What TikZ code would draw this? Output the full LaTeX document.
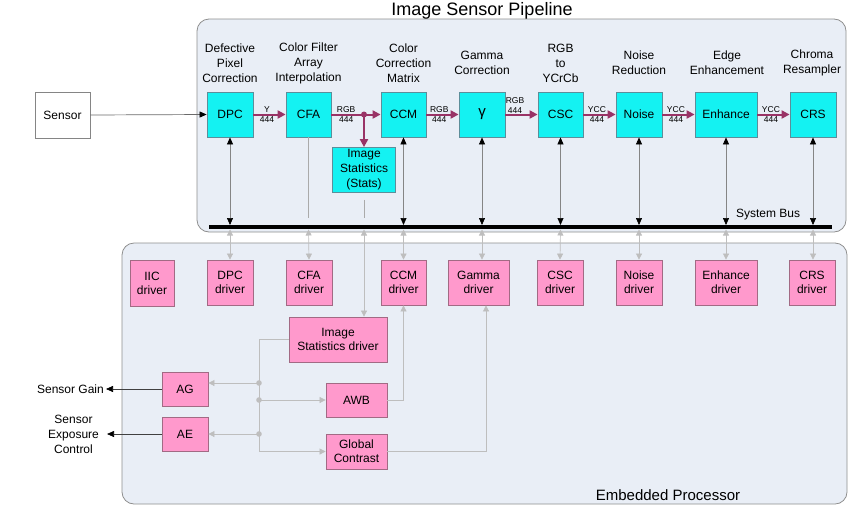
\documentclass[tikz,border=0pt]{standalone}
\usepackage{fontspec}
\setmainfont{Liberation Sans}
\usetikzlibrary{arrows.meta}
\definecolor{pcyan}{HTML}{14F2F2}
\definecolor{cyanborder}{HTML}{5C8E9A}
\definecolor{ppink}{HTML}{FF99CC}
\definecolor{pinkborder}{HTML}{A26A84}
\definecolor{bgfill}{HTML}{E9EEF6}
\definecolor{bgborder}{HTML}{8E8E8E}
\definecolor{dpurple}{HTML}{993366}
\definecolor{midgray}{HTML}{858585}
\definecolor{lgray}{HTML}{BEBEBE}
\begin{document}
\begin{tikzpicture}[x=1pt,y=-1pt,
  font=\fontsize{12}{15}\selectfont,
  panel/.style={draw=bgborder,fill=bgfill,line width=0.8pt,rounded corners=12pt},
  pipe/.style={draw=cyanborder,fill=pcyan,line width=0.8pt,minimum width=46pt,minimum height=45pt,inner sep=0pt,align=center},
  drv/.style={draw=pinkborder,fill=ppink,line width=0.8pt,minimum width=46pt,minimum height=45pt,inner sep=0pt,align=center,font=\fontsize{12}{14}\selectfont},
  lbl/.style={align=center,inner sep=0pt},
  sm/.style={font=\fontsize{8.5}{10}\selectfont,inner sep=1pt},
  dat/.style={draw=dpurple,line width=2pt,-{Triangle[length=8pt,width=8pt]}},
  busarr/.style={draw=midgray,line width=0.7pt,{Triangle[black,length=7pt,width=6pt]}-{Triangle[black,length=7pt,width=6pt]}},
  grayline/.style={draw=midgray!70,line width=0.7pt},
  lgarr/.style={draw=lgray,line width=0.7pt,{Triangle[length=6pt,width=6pt]}-{Triangle[length=6pt,width=6pt]}},
  lgline/.style={draw=lgray,line width=0.7pt},
  lgto/.style={draw=lgray,line width=0.7pt,-{Triangle[length=6pt,width=6pt]}},
  blkto/.style={draw=black!75,line width=0.7pt,-{Triangle[black,length=7pt,width=6pt]}}
]
\useasboundingbox (0,0) rectangle (850,509);

% panels
\path[panel] (197,19) rectangle (846,232);
\path[panel] (122,243) rectangle (847,504);

% titles
\node[anchor=base,inner sep=0pt] (title) at (482,15) {\fontsize{18}{20}\selectfont Image Sensor Pipeline};
\node[anchor=base,inner sep=0pt] (emb) at (668,500) {\fontsize{15}{18}\selectfont Embedded Processor};
\node[anchor=base,inner sep=0pt] (sysbus) at (768,217) {System Bus};

% sensor
\node[draw=midgray,fill=white,line width=0.7pt,minimum width=55pt,minimum height=46pt,inner sep=0pt] (sensor) at (62.5,115) {Sensor};

% pipeline blocks
\node[pipe] (dpc) at (230,114.5) {DPC};
\node[pipe,minimum width=45pt] (cfa) at (308.5,114.5) {CFA};
\node[pipe,minimum width=45pt] (ccm) at (403.5,114.5) {CCM};
\node[pipe,font=\fontsize{15}{15}\selectfont] (gam) at (482,114.5) {γ};
\node[pipe,minimum width=45pt] (csc) at (560.5,114.5) {CSC};
\node[pipe] (noise) at (639,114.5) {Noise};
\node[pipe,minimum width=62pt] (enh) at (726,114.5) {Enhance};
\node[pipe] (crs) at (813,114.5) {CRS};
\node[pipe,minimum width=63pt,minimum height=45pt] (stats) at (364,170) {Image\\Statistics\\(Stats)};

% labels above
\node[lbl] (l1) at (230,63) {Defective\\Pixel\\Correction};
\node[lbl] (l2) at (308.5,63) {Color Filter\\Array\\Interpolation};
\node[lbl] (l3) at (403.5,63) {Color\\Correction\\Matrix};
\node[lbl] (l4) at (482,63) {Gamma\\Correction};
\node[lbl] (l5) at (560.5,63) {RGB\\to\\YCrCb};
\node[lbl] (l6) at (639,63) {Noise\\Reduction};
\node[lbl] (l7) at (727,63) {Edge\\Enhancement};
\node[lbl] (l8) at (812,63) {Chroma\\Resampler};

% data path
\draw[draw=midgray!80!black,line width=0.7pt,-{Triangle[black,length=7pt,width=6pt]}] (sensor.east) -- (dpc.west);
\draw[dat] (dpc) -- (cfa) node[sm,above,pos=0.42]{Y} node[sm,below,pos=0.42]{444};
\draw[dat] (cfa) -- (ccm) node[sm,above,pos=0.3]{RGB} node[sm,below,pos=0.3]{444};
\coordinate (jn) at (364,114.5);
\fill[dpurple] (jn) circle (3pt);
\draw[dat] (jn) -- (stats.north);
\draw[dat] (ccm) -- (gam) node[sm,above,pos=0.4]{RGB} node[sm,below,pos=0.4]{444};
\draw[dat] (gam) -- (csc) node[sm,above,pos=0.3,align=center,yshift=-1pt]{RGB\\444};
\draw[dat] (csc) -- (noise) node[sm,above,pos=0.42]{YCC} node[sm,below,pos=0.42]{444};
\draw[dat] (noise) -- (enh) node[sm,above,pos=0.42]{YCC} node[sm,below,pos=0.42]{444};
\draw[dat] (enh) -- (crs) node[sm,above,pos=0.42]{YCC} node[sm,below,pos=0.42]{444};

% bus
\coordinate (busL) at (209,227);
\coordinate (busR) at (832,227);
\coordinate (busT) at (0,225);
\coordinate (busB) at (0,229.5);
\coordinate (stopT) at (0,218);
\draw[line width=4pt] (busL) -- (busR);

% pipeline to bus
\draw[busarr] (dpc.south) -- (dpc.south |- busT);
\draw[grayline] (cfa.south) -- (cfa.south |- stopT);
\draw[grayline,shorten <=7pt] (stats.south) -- (stats.south |- stopT);
\draw[busarr] (ccm.south) -- (ccm.south |- busT);
\draw[busarr] (gam.south) -- (gam.south |- busT);
\draw[busarr] (csc.south) -- (csc.south |- busT);
\draw[busarr] (noise.south) -- (noise.south |- busT);
\draw[busarr] (enh.south) -- (enh.south |- busT);
\draw[busarr] (crs.south) -- (crs.south |- busT);

% drivers
\node[drv,minimum width=44pt,minimum height=46pt] (iic) at (152,283) {IIC\\driver};
\node[drv] (dpcd) at (230,282.5) {DPC\\driver};
\node[drv] (cfad) at (309,282.5) {CFA\\driver};
\node[drv,minimum width=45pt] (ccmd) at (403.5,282.5) {CCM\\driver};
\node[drv,minimum width=61pt] (gamd) at (478.5,282.5) {Gamma\\driver};
\node[drv] (cscd) at (560,282.5) {CSC\\driver};
\node[drv] (noised) at (639,282.5) {Noise\\driver};
\node[drv,minimum width=62pt] (enhd) at (726,282.5) {Enhance\\driver};
\node[drv] (crsd) at (812,282.5) {CRS\\driver};

\node[drv,minimum width=98pt] (statsd) at (338,339.5) {Image\\Statistics driver};
\node[drv,minimum height=34pt] (ag) at (185,389) {AG};
\node[drv,minimum height=34pt] (ae) at (185,434) {AE};
\node[drv,minimum width=61pt,minimum height=34pt] (awb) at (356.5,400) {AWB};
\node[drv,minimum width=61pt,minimum height=35pt] (gc) at (356.5,451.5) {Global\\Contrast};

% bus to drivers
\draw[lgarr] (dpc.south |- busB) -- (dpcd.north);
\draw[lgarr] (cfa.south |- busB) -- (cfad.north);
\draw[lgarr] (stats.south |- busB) -- (stats.south |- statsd.north);
\draw[lgarr] (ccm.south |- busB) -- (ccmd.north);
\draw[lgarr] (gam.south |- busB) -- (gam.south |- gamd.north);
\draw[lgarr] (csc.south |- busB) -- (cscd.north);
\draw[lgarr] (noise.south |- busB) -- (noise.south |- noised.north);
\draw[lgarr] (enh.south |- busB) -- (enhd.north);
\draw[lgarr] (crs.south |- busB) -- (crs.south |- crsd.north);

% control loops
\coordinate (j0) at (259,339.5);
\coordinate (j1) at (259,383);
\coordinate (j2) at (259,400);
\coordinate (j3) at (259,434);
\coordinate (j4) at (259,451.5);
\draw[lgline] (statsd.west) -- (j0) -- (j4);
\draw[lgto] (j4) -- (gc.west);
\draw[lgto] (j1) -- (ag.east |- j1);
\draw[lgto] (j2) -- (awb.west);
\draw[lgto] (j3) -- (ae.east |- j3);
\foreach \j in {j1,j2,j3} \fill[lgray] (\j) circle (2.8pt);
\coordinate (g1) at (486,0);
\draw[lgto] (awb.east) -| (ccmd.south);
\draw[lgto] (gc.east) -| (g1 |- gamd.south);

% sensor outputs
\node[anchor=east,inner sep=2pt] (sgt) at (106,389) {Sensor Gain};
\node[lbl] (set) at (73.5,434) {Sensor\\Exposure\\Control};
\draw[blkto] (ag.west) -- (sgt.east);
\draw[blkto,shorten >=8pt] (ae.west) -- (set.east);
\end{tikzpicture}
\end{document}
